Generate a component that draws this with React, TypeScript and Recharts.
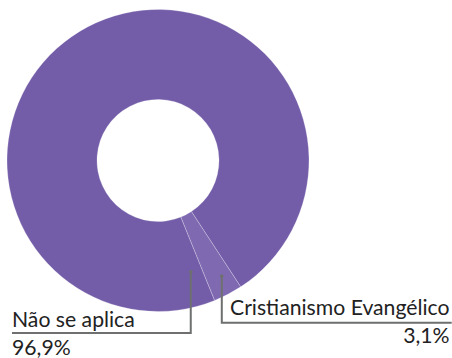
import { PieChart, Pie, Cell } from 'recharts';

const categories = ['Não se aplica', 'Cristianismo Evangélico'];
const values = [96.9, 3.1];
const colors = ['#735da8', '#7f6ab2'];

const data = categories.map((name, i) => ({ name, value: values[i] }));

const LINE = '#6e7070';
const FONT = 'Lato, "Open Sans", sans-serif';
const RAD = Math.PI / 180;

const fmtPct = (v: number) => v.toLocaleString('pt-BR', { minimumFractionDigits: 1, maximumFractionDigits: 1 }) + '%';

// label layout: anchor inside the ring, then elbow line to an underline below the text
const LABELS = [
  { angle: -73.6, r: 116, lineY: 333, x1: 12, textX: 12, anchor: 'start' as const, nameY: 327, pctY: 355 },
  { angle: -61.1, r: 132, lineY: 322.7, x1: 451.7, textX: 449.5, anchor: 'end' as const, nameY: 315, pctY: 343 },
];

interface LabelProps {
  cx?: number;
  cy?: number;
  index?: number;
  name?: string;
  value?: number;
}

const ElbowLabel = ({ cx = 0, cy = 0, index = 0, name, value = 0 }: LabelProps) => {
  const l = LABELS[index];
  const ax = cx + l.r * Math.cos(l.angle * RAD);
  const ay = cy - l.r * Math.sin(l.angle * RAD);
  return (
    <g>
      <polyline points={`${ax},${ay} ${ax},${l.lineY} ${l.x1},${l.lineY}`} fill="none" stroke={LINE} strokeWidth={2} />
      <circle cx={ax} cy={ay} r={1.8} fill={LINE} />
      <text x={l.textX} y={l.nameY} textAnchor={l.anchor} fontFamily={FONT} fontSize={21.2} fill="#222">
        {name}
      </text>
      <text x={l.textX} y={l.pctY} textAnchor={l.anchor} fontFamily={FONT} fontSize={21.2} fill="#222">
        {fmtPct(value)}
      </text>
    </g>
  );
};

export default function App() {
  return (
    <div style={{ position: 'absolute', left: 0, top: 0, width: 452, height: 358 }}>
      <PieChart width={452} height={358} margin={{ top: 0, right: 0, bottom: 0, left: 0 }}>
        <Pie
          data={data}
          dataKey="value"
          nameKey="name"
          cx={158}
          cy={160.5}
          innerRadius={61}
          outerRadius={151}
          startAngle={-56.8}
          endAngle={303.2}
          stroke="rgba(255,255,255,0.35)"
          strokeWidth={0.7}
          label={(p: LabelProps) => <ElbowLabel {...p} />}
          labelLine={false}
          isAnimationActive={false}
        >
          {data.map((d, i) => (
            <Cell key={d.name} fill={colors[i]} />
          ))}
        </Pie>
      </PieChart>
    </div>
  );
}
